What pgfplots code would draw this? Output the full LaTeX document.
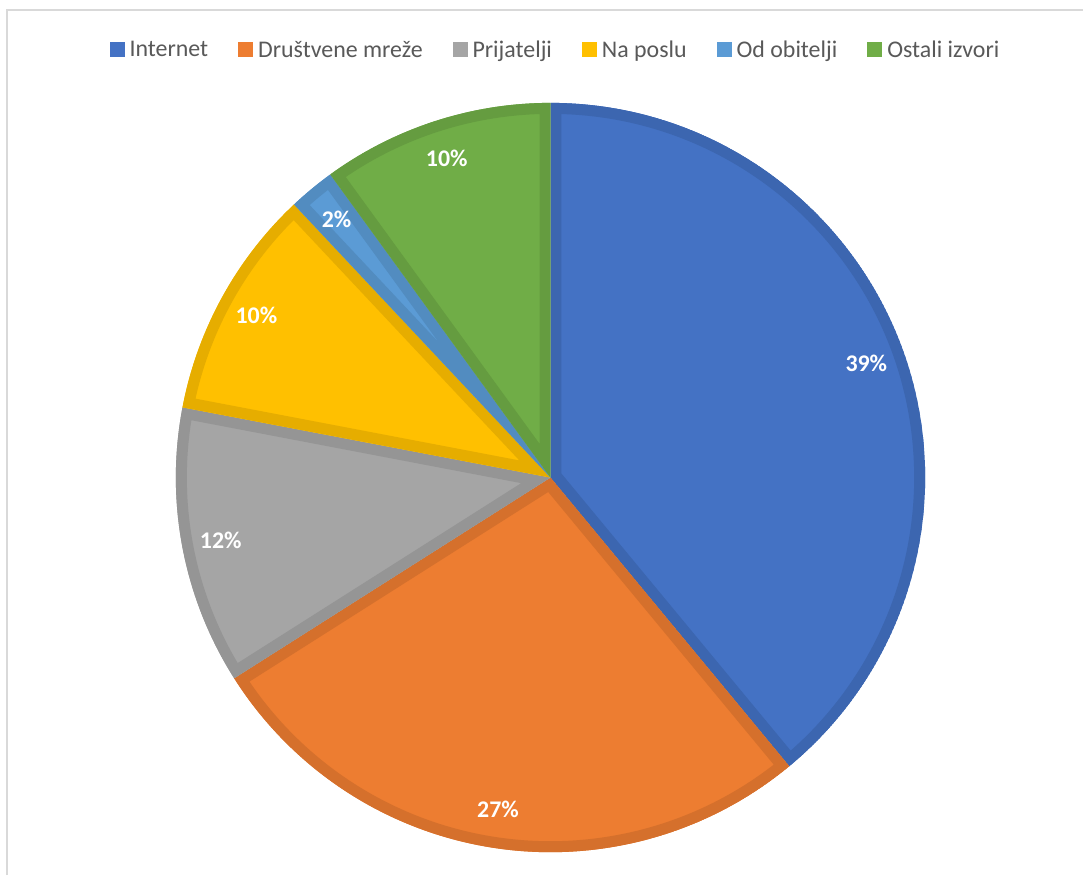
\documentclass[border=0pt]{standalone}
\usepackage{pgfplots}
\usepackage{pgfplotstable}
\pgfplotsset{compat=1.18}
\usepackage{fontspec}
\setmainfont{Carlito}
\definecolor{c0}{HTML}{4472C4}\definecolor{e0}{HTML}{3C66B0}
\definecolor{c1}{HTML}{ED7D31}\definecolor{e1}{HTML}{D5702C}
\definecolor{c2}{HTML}{A5A5A5}\definecolor{e2}{HTML}{959595}
\definecolor{c3}{HTML}{FFC000}\definecolor{e3}{HTML}{E6AD00}
\definecolor{c4}{HTML}{5B9BD5}\definecolor{e4}{HTML}{528CC0}
\definecolor{c5}{HTML}{70AD47}\definecolor{e5}{HTML}{659C40}
\definecolor{legtext}{HTML}{595959}
\definecolor{framec}{HTML}{D9D9D9}

\pgfplotstableread{
name value
Internet 39
{Društvene mreže} 27
Prijatelji 12
{Na poslu} 10
{Od obitelji} 2
{Ostali izvori} 10
}\piedata

\begin{document}
\begin{tikzpicture}
% cumulative angles from the data (clockwise from 12 o'clock)
\gdef\cum{0}
\pgfplotsforeachungrouped \i in {0,...,5}{%
  \pgfplotstablegetelem{\i}{value}\of\piedata
  \let\v\pgfplotsretval
  \pgfmathsetmacro\a{90-3.6*\cum}%
  \pgfmathsetmacro\b{90-3.6*(\cum+\v)}%
  \pgfmathsetmacro\m{(\a+\b)/2}%
  \expandafter\xdef\csname sa\i\endcsname{\a}%
  \expandafter\xdef\csname sb\i\endcsname{\b}%
  \expandafter\xdef\csname sm\i\endcsname{\m}%
  \expandafter\xdef\csname sv\i\endcsname{\v}%
  \pgfmathsetmacro\newcum{\cum+\v}%
  \xdef\cum{\newcum}%
}
\begin{axis}[
  scale only axis,
  width=1084bp, height=876bp,
  xmin=0, xmax=1084, ymin=0, ymax=876,
  hide axis, clip=false,
  legend style={at={(axis cs:556,826)}, anchor=center, draw=none, fill=none,
    font=\fontsize{24}{29}\selectfont, text=legtext,
    /tikz/every even column/.append style={column sep=28bp},
    /tikz/every odd column/.append style={column sep=0bp}},
  legend columns=-1,
  legend image code/.code={\path[#1] (0bp,-7.5bp) rectangle (15bp,7.5bp); \path (18bp,0bp);},
]
\pgfplotsextra{%
  \fill[white] (axis cs:0,0) rectangle (axis cs:1084,876);
  \draw[framec, line width=2bp] (axis cs:7,0) -- (axis cs:7,866) -- (axis cs:1084,866);
}
\pgfplotsinvokeforeach{0,...,5}{%
  \pgfplotsextra{%
    \edef\A{\csname sa#1\endcsname}\edef\B{\csname sb#1\endcsname}%
    \begin{scope}
      \clip (axis cs:551,398) -- +(\A:375bp) arc[start angle=\A, end angle=\B, radius=375bp] -- cycle;
      \fill[c#1] (axis cs:551,398) -- +(\A:375bp) arc[start angle=\A, end angle=\B, radius=375bp] -- cycle;
      \draw[e#1, line width=22bp, line join=round] (axis cs:551,398) -- +(\A:375bp) arc[start angle=\A, end angle=\B, radius=375bp] -- cycle;
    \end{scope}
  }
}
\pgfplotsinvokeforeach{0,...,5}{%
  \pgfplotsextra{%
    \edef\M{\csname sm#1\endcsname}\edef\V{\csname sv#1\endcsname}%
    \path (axis cs:551,398) ++(\M:336bp) node[text=white, font=\bfseries\fontsize{24}{28}\selectfont] {\V\%};
  }
}
\pgfplotsinvokeforeach{0,...,5}{%
  \addlegendimage{fill=c#1, draw=none}
  \pgfplotstablegetelem{#1}{name}\of\piedata
  \addlegendentryexpanded{\pgfplotsretval}
}
\end{axis}
\end{tikzpicture}
\end{document}
